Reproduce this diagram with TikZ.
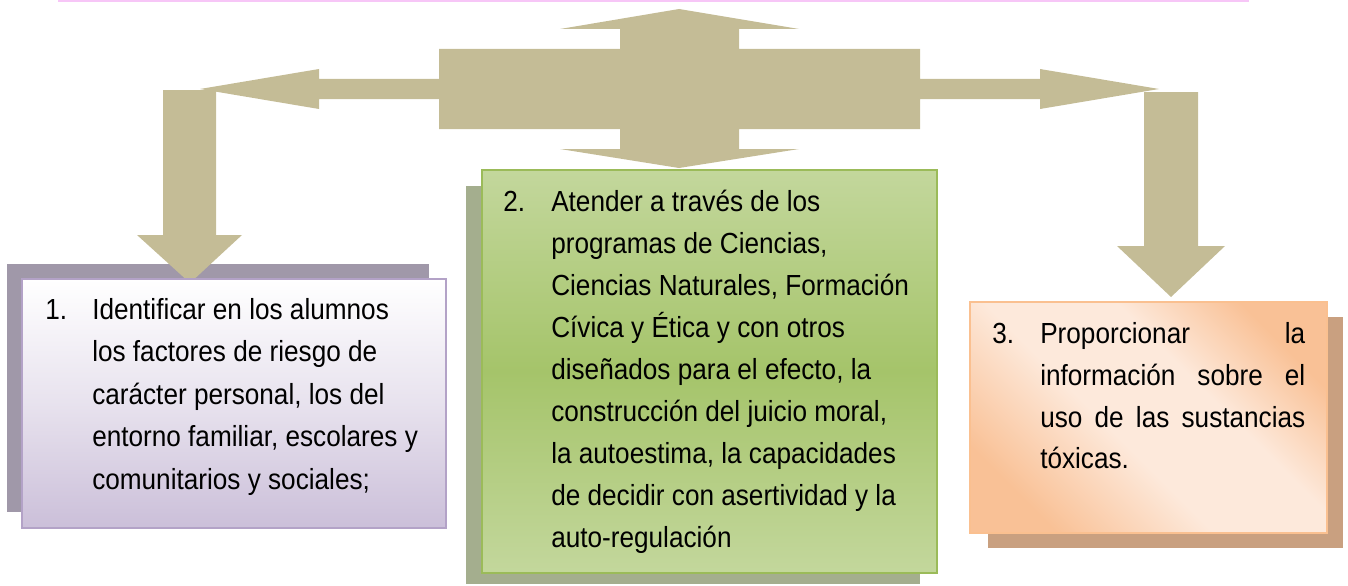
\documentclass[tikz,border=0pt]{standalone}
\usepackage{fontspec}
\setmainfont{Liberation Sans}[FakeStretch=0.9]
\definecolor{arrowc}{HTML}{C4BC96}
\definecolor{pinkl}{HTML}{F7C6F7}
\definecolor{sh1}{HTML}{A098A9}
\definecolor{bd1}{HTML}{B3A2C7}
\definecolor{lav}{HTML}{CBBFD9}
\definecolor{sh2}{HTML}{A4AE8E}
\definecolor{bd2}{HTML}{9BBB59}
\definecolor{g1}{HTML}{C3D79C}
\definecolor{g2}{HTML}{A5C46A}
\definecolor{sh3}{HTML}{C9A080}
\definecolor{bd3}{HTML}{FAC090}
\definecolor{orA}{HTML}{F9C196}
\definecolor{orL}{HTML}{FDE9DB}
\pgfdeclarehorizontalshading{orband}{100bp}{color(0bp)=(orA); color(25bp)=(orA); color(44bp)=(orL); color(60bp)=(orL); color(75bp)=(orA); color(100bp)=(orA)}
\tikzset{
  arrowshape/.style={fill=arrowc, draw=none},
  txt/.style={anchor=base west, inner sep=0pt, font=\fontsize{21.8}{26}\selectfont},
}
\begin{document}
\begin{tikzpicture}[x=0.75pt,y=-0.75pt]
\useasboundingbox (0,0) rectangle (1348,585);
% top pink line
\fill[pinkl] (58,0) rectangle (1249,1.6);
% shadows
\fill[sh1] (7,264) rectangle (429,512);
\fill[sh2] (466,186) rectangle (920,584);
\fill[sh3] (988,317) rectangle (1343,548);
% arrows
\fill[arrowshape] (679,9) -- (799,29) -- (739,29) -- (739,49) -- (920,49) -- (920,79)
  -- (1040,79) -- (1040,69) -- (1159,89) -- (1040,109) -- (1040,99) -- (920,99)
  -- (920,129) -- (739,129) -- (739,149) -- (799,149) -- (679,168) -- (560,149)
  -- (620,149) -- (620,129) -- (439,129) -- (439,99) -- (319,99) -- (319,109)
  -- (200,89) -- (319,69) -- (319,79) -- (439,79) -- (439,49) -- (620,49)
  -- (620,29) -- (560,29) -- cycle;
\fill[arrowshape] (163,90) -- (216,90) -- (216,235) -- (242,235) -- (190,283)
  -- (137,235) -- (163,235) -- cycle;
\fill[arrowshape] (1144,92) -- (1198,92) -- (1198,246) -- (1225,246) -- (1171,297)
  -- (1117,246) -- (1144,246) -- cycle;
% boxes
\shade[top color=white, bottom color=lav, middle color=white!55!lav] (22,279) rectangle (446,528);
\draw[bd1, line width=1.6pt] (22,279) rectangle (446,528);
\shade[top color=g1, bottom color=g1, middle color=g2] (482,170) rectangle (937,573);
\draw[bd2, line width=1.6pt] (482,170) rectangle (937,573);
\shade[shading=orband, shading angle=45] (970,302) rectangle (1327,533);
\draw[bd3, line width=1.6pt] (970,302) rectangle (1327,533);
% texts box 1
\node[txt] (n1) at (45,319) {1.};
\foreach \t [count=\i] in {{Identificar en los alumnos},{los factores de riesgo de},{carácter personal, los del},{entorno familiar, escolares y},{comunitarios y sociales;}}
  \node[txt, name=t1-\i] at (92,{319+(\i-1)*42.5}) {\t};
% texts box 2
\node[txt] (n2) at (503,211) {2.};
\foreach \t [count=\i] in {{Atender a través de los},{programas de Ciencias,},{Ciencias Naturales, Formación},{Cívica y Ética y con otros},{diseñados para el efecto, la},{construcción del juicio moral,},{la autoestima, la capacidades},{de decidir con asertividad y la},{auto-regulación}}
  \node[txt, name=t2-\i] at (551,{211+(\i-1)*42.1}) {\t};
% texts box 3
\node[txt] (n3) at (992,343) {3.};
\node[txt] (t3-1) at (1040,343) {\hbox to 198.75pt{Proporcionar\hfill la}};
\node[txt] (t3-2) at (1040,385) {\hbox to 198.75pt{información\hfill sobre\hfill el}};
\node[txt] (t3-3) at (1040,427) {\hbox to 198.75pt{uso\hfill de\hfill las\hfill sustancias}};
\node[txt] (t3-4) at (1040,468) {tóxicas.};
\end{tikzpicture}
\end{document}
